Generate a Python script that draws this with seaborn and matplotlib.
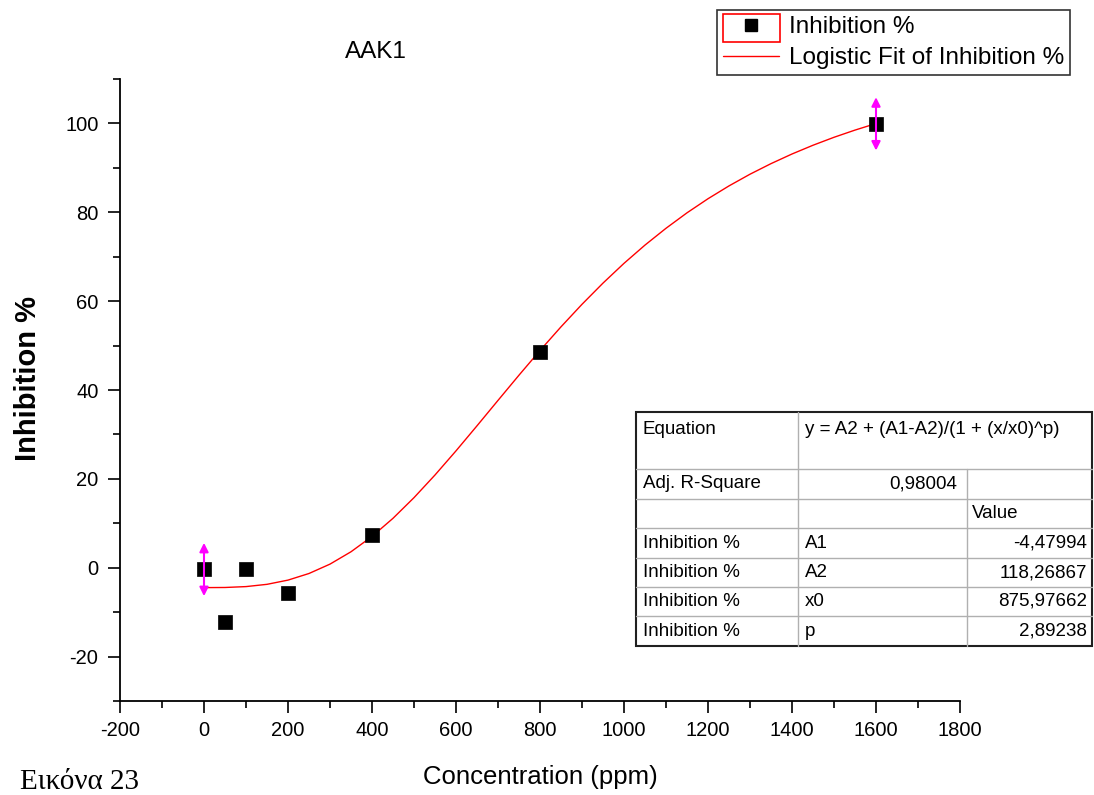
"""
AAK1 inhibition vs concentration with logistic fit
"""
import matplotlib
matplotlib.use("Agg")
import matplotlib.pyplot as plt
from matplotlib.lines import Line2D
from matplotlib.patches import Rectangle
from matplotlib.ticker import MultipleLocator
import seaborn as sns
import pandas as pd

# measured points
conc = [0, 50, 100, 200, 400, 800, 1600]
inhib = [-0.4, -12.2, -0.2, -5.6, 7.3, 48.5, 99.9]

# error bars shown on first and last point
err_conc = [0, 1600]
err_inhib = [-0.4, 99.9]
err_size = [6, 6]

# logistic fit curve, read every 50 ppm
fit_conc = [0, 50, 100, 150, 200, 250, 300, 350, 400, 450, 500, 550, 600,
            650, 700, 750, 800, 850, 900, 950, 1000, 1050, 1100, 1150, 1200,
            1250, 1300, 1350, 1400, 1450, 1500, 1550, 1600]
fit_inhib = [-4.48, -4.45, -4.25, -3.74, -2.79, -1.30, 0.81, 3.59, 7.04,
             11.12, 15.77, 20.87, 26.30, 31.94, 37.66, 43.34, 48.89, 54.22,
             59.29, 64.06, 68.51, 72.62, 76.40, 79.88, 83.05, 85.94, 88.57,
             90.95, 93.12, 95.09, 96.88, 98.50, 99.98]

# fit results table
table_rows = [
    ("Adj. R-Square", "0,98004", ""),
    ("", "", "Value"),
    ("Inhibition %", "A1", "-4,47994"),
    ("Inhibition %", "A2", "118,26867"),
    ("Inhibition %", "x0", "875,97662"),
    ("Inhibition %", "p", "2,89238"),
]
equation = "y = A2 + (A1-A2)/(1 + (x/x0)^p)"

W, H = 1094, 795


def fx(px):
    return px / W


def fy(py):
    return 1 - py / H


def main():
    sns.set_style("ticks")
    plt.rcParams["font.family"] = ["Liberation Sans", "DejaVu Sans"]
    plt.rcParams["axes.unicode_minus"] = False
    plt.rcParams["text.color"] = "black"
    plt.rcParams["axes.labelcolor"] = "black"
    plt.rcParams["xtick.color"] = "black"
    plt.rcParams["ytick.color"] = "black"

    fig = plt.figure(figsize=(W / 100, H / 100), dpi=100)
    ax = fig.add_axes([fx(120), fy(701), fx(960) - fx(120), fy(79) - fy(701)])

    pts = pd.DataFrame({"conc": conc, "inhib": inhib})
    fit = pd.DataFrame({"conc": fit_conc, "inhib": fit_inhib})

    sns.lineplot(data=fit, x="conc", y="inhib", color="red", linewidth=1.0,
                 ax=ax, zorder=2, label="Logistic Fit of Inhibition %")
    sns.scatterplot(data=pts, x="conc", y="inhib", marker="s", s=90,
                    color="black", edgecolor="black", linewidth=0.5,
                    ax=ax, zorder=3, label="Inhibition %")

    for x, y, e in zip(err_conc, err_inhib, err_size):
        ax.annotate("", xy=(x, y + e), xytext=(x, y - e),
                    arrowprops=dict(arrowstyle="<|-|>", color="magenta",
                                    lw=1.5, mutation_scale=13,
                                    shrinkA=0, shrinkB=0), zorder=4)

    ax.set_xlim(-200, 1800)
    ax.set_ylim(-30, 110)
    ax.xaxis.set_major_locator(MultipleLocator(200))
    ax.xaxis.set_minor_locator(MultipleLocator(100))
    ax.yaxis.set_major_locator(MultipleLocator(20))
    ax.yaxis.set_minor_locator(MultipleLocator(10))
    ax.tick_params(which="major", direction="out", length=8.5, width=1.2,
                   labelsize=14.5, color="black")
    ax.tick_params(which="minor", direction="out", length=5, width=1.2,
                   color="black")
    ax.tick_params(axis="y", pad=7)
    ax.tick_params(axis="x", pad=6)
    sns.despine(ax=ax)
    for s in ["left", "bottom"]:
        ax.spines[s].set_linewidth(1.3)
        ax.spines[s].set_color("black")

    ax.set_xlabel("Concentration (ppm)", fontsize=18.5)
    ax.xaxis.set_label_coords(0.5, -0.103)
    ax.set_ylabel("Inhibition %", fontsize=21, fontweight="bold")
    ax.yaxis.set_label_coords(-0.1095, 0.519)
    ax.yaxis.label.set_va("center")

    fig.text(fx(376), fy(52), "AAK1", fontsize=17.5, ha="center",
             va="center")
    fig.text(fx(20), fy(789), "Εικόνα 23", fontsize=21,
             family=["Liberation Serif", "DejaVu Serif"], ha="left",
             va="baseline")

    # legend, placed like the original
    handles = [
        Line2D([], [], marker="s", color="black", linestyle="none",
               markersize=9),
        Line2D([], [], color="red", linewidth=1.0),
    ]
    leg = ax.legend(handles, ["Inhibition %", "Logistic Fit of Inhibition %"],
                    loc="upper left", bbox_to_anchor=(fx(717), fy(10)),
                    bbox_transform=fig.transFigure, fontsize=17.5,
                    frameon=True, fancybox=False, handlelength=2.3,
                    handletextpad=0.4, borderpad=0.25, labelspacing=0.38,
                    borderaxespad=0)
    leg.get_frame().set_edgecolor("black")
    leg.get_frame().set_linewidth(1.2)
    fig.add_artist(Rectangle((fx(723), fy(42)), fx(780) - fx(723),
                             fy(14) - fy(42), transform=fig.transFigure,
                             fill=False, edgecolor="red", linewidth=1.2))

    # fit result table
    left, c1, c2, right = 636, 798, 967, 1092
    rows_y = [412, 469, 499, 528, 558, 587, 616, 646]
    grey = "#b0b0b0"
    for y in rows_y[1:-1]:
        fig.add_artist(Line2D([fx(left), fx(right)], [fy(y), fy(y)],
                              color=grey, lw=1.0))
    fig.add_artist(Line2D([fx(c1), fx(c1)], [fy(412), fy(646)],
                          color=grey, lw=1.0))
    fig.add_artist(Line2D([fx(c2), fx(c2)], [fy(469), fy(646)],
                          color=grey, lw=1.0))
    fig.add_artist(Rectangle((fx(left), fy(646)), fx(right) - fx(left),
                             fy(412) - fy(646), transform=fig.transFigure,
                             fill=False, edgecolor="#202020", linewidth=1.5))
    tsize = 13.5
    fig.text(fx(643), fy(430), "Equation", fontsize=tsize, va="center")
    fig.text(fx(805), fy(430), equation, fontsize=tsize, va="center")
    for i, (a, b, c) in enumerate(table_rows):
        yc = (rows_y[i + 1] + rows_y[i + 2]) / 2
        fig.text(fx(643), fy(yc), a, fontsize=tsize, va="center")
        if i == 0:
            fig.text(fx(957), fy(yc), b, fontsize=tsize, va="center",
                     ha="right")
        else:
            fig.text(fx(805), fy(yc), b, fontsize=tsize, va="center")
        if c == "Value":
            fig.text(fx(972), fy(yc), c, fontsize=tsize, va="center")
        elif c:
            fig.text(fx(1087), fy(yc), c, fontsize=tsize, va="center",
                     ha="right")

    fig.savefig("out.png", dpi=100)


if __name__ == "__main__":
    main()
